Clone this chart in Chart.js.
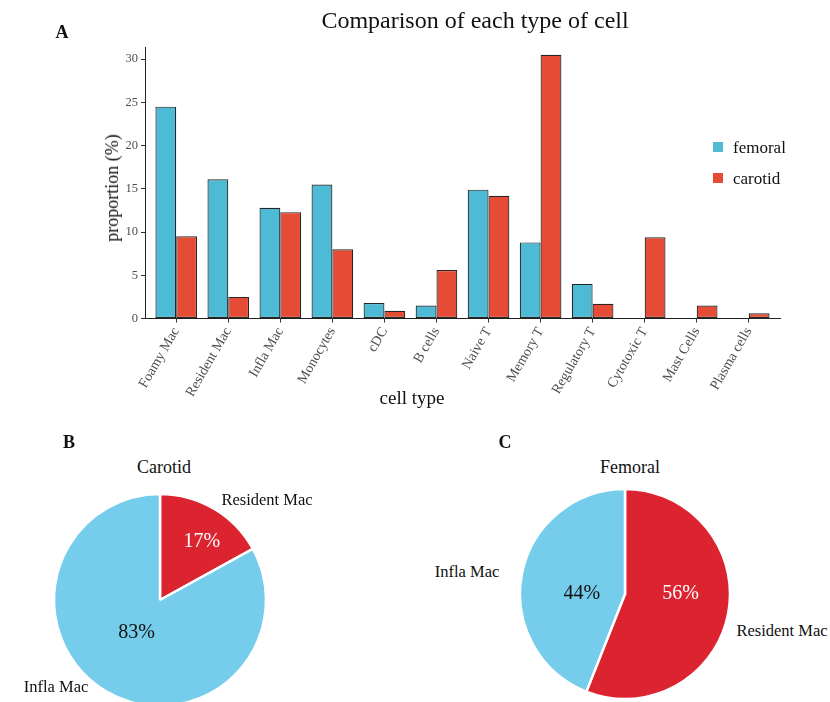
<!DOCTYPE html>
<html lang="en">
  <head>
    <meta charset="UTF-8" />
    <title>Comparison of each type of cell</title>
    <script src="https://cdn.jsdelivr.net/npm/chart.js"></script>
    <style>
      html,
      body {
        margin: 0;
        padding: 0;
        width: 830px;
        height: 702px;
        overflow: hidden;
        background: #fff;
        position: relative;
        font-family: "Liberation Serif", "DejaVu Serif", serif;
        color: #111;
      }
      canvas {
        position: absolute;
        display: block;
      }
      .t {
        position: absolute;
        transform: translate(-50%, -50%);
        white-space: nowrap;
        line-height: 1;
      }
      .panel {
        font-weight: bold;
        font-size: 18px;
      }
      .key {
        position: absolute;
        width: 10px;
        height: 10px;
      }
      .lab {
        position: absolute;
        transform: translateY(-50%);
        font-size: 17px;
        line-height: 1;
      }
    </style>
  </head>
  <body>
    <canvas id="bars" width="830" height="420" style="left: 0; top: 0"></canvas>
    <canvas id="pieCarotid" width="220" height="220" style="left: 50px; top: 490px"></canvas>
    <canvas id="pieFemoral" width="220" height="220" style="left: 515px; top: 484px"></canvas>

    <div class="t panel" style="left: 62px; top: 32px">A</div>
    <div class="t" style="left: 475px; top: 20px; font-size: 24px">Comparison of each type of cell</div>
    <div class="t" style="left: 112px; top: 188px; font-size: 18px; transform: translate(-50%, -50%) rotate(-90deg)">proportion (%)</div>
    <div class="t" style="left: 412px; top: 397px; font-size: 19px">cell type</div>

    <div class="key" style="left: 713px; top: 142px; background: #4dbbd5"></div>
    <div class="lab" style="left: 733px; top: 147px">femoral</div>
    <div class="key" style="left: 713px; top: 173px; background: #e64b35"></div>
    <div class="lab" style="left: 733px; top: 178px">carotid</div>

    <div class="t panel" style="left: 69px; top: 442px">B</div>
    <div class="t" style="left: 164px; top: 467px; font-size: 18px">Carotid</div>
    <div class="t" style="left: 267px; top: 500px; font-size: 16.5px">Resident Mac</div>
    <div class="t" style="left: 56px; top: 687px; font-size: 16.5px">Infla Mac</div>

    <div class="t panel" style="left: 505px; top: 442px">C</div>
    <div class="t" style="left: 630px; top: 467px; font-size: 18px">Femoral</div>
    <div class="t" style="left: 467px; top: 572px; font-size: 16.5px">Infla Mac</div>
    <div class="t" style="left: 782px; top: 631px; font-size: 16.5px">Resident Mac</div>

    <script>
      // data
      const cellTypes = [
        "Foamy Mac",
        "Resident Mac",
        "Infla Mac",
        "Monocytes",
        "cDC",
        "B cells",
        "Naive T",
        "Memory T",
        "Regulatory T",
        "Cytotoxic T",
        "Mast Cells",
        "Plasma cells",
      ];
      const femoral = [24.5, 16.1, 12.8, 15.5, 1.8, 1.5, 14.9, 8.8, 4.0, 0, 0, 0];
      const carotid = [9.5, 2.5, 12.3, 8.0, 0.9, 5.6, 14.2, 30.5, 1.7, 9.4, 1.5, 0.6];
      const yTicks = [0, 5, 10, 15, 20, 25, 30];

      const macLabels = ["Resident Mac", "Infla Mac"];
      const carotidMac = [17, 83];
      const femoralMac = [56, 44];

      const SERIF = "'Liberation Serif', 'DejaVu Serif', serif";

      document.addEventListener("DOMContentLoaded", function () {
        const toPoints = (arr) => arr.map((v, i) => ({ x: i + 1, y: v }));

        new Chart(document.getElementById("bars"), {
          type: "bar",
          data: {
            datasets: [
              {
                label: "femoral",
                data: toPoints(femoral),
                backgroundColor: "#4dbbd5",
              },
              {
                label: "carotid",
                data: toPoints(carotid),
                backgroundColor: "#e64b35",
              },
            ],
          },
          options: {
            responsive: false,
            animation: false,
            layout: { padding: { left: 0, right: 50, top: 47, bottom: 0 } },
            datasets: {
              bar: {
                borderColor: "#262626",
                borderWidth: 1.2,
                borderSkipped: false,
                barPercentage: 1,
                categoryPercentage: 0.8,
              },
            },
            plugins: { legend: { display: false }, tooltip: { enabled: false } },
            scales: {
              x: {
                type: "linear",
                min: 0.4,
                max: 12.6,
                bounds: "data",
                offset: false,
                afterBuildTicks: (s) => {
                  s.ticks = cellTypes.map((c, i) => ({ value: i + 1 }));
                },
                afterFit: (s) => {
                  s.height = 101.5;
                },
                ticks: {
                  autoSkip: false,
                  minRotation: 60,
                  maxRotation: 60,
                  padding: 2,
                  color: "#4d4d4d",
                  font: { family: SERIF, size: 14 },
                  callback: (v) => cellTypes[v - 1],
                },
                grid: {
                  offset: false,
                  drawOnChartArea: false,
                  tickLength: 4,
                  color: "#333",
                },
                border: { color: "#222", width: 1 },
              },
              y: {
                min: 0,
                max: 31.4,
                afterBuildTicks: (s) => {
                  s.ticks = yTicks.map((v) => ({ value: v }));
                },
                afterFit: (s) => {
                  s.width = 145;
                },
                ticks: {
                  padding: 3,
                  color: "#4d4d4d",
                  font: { family: SERIF, size: 12.5 },
                },
                grid: {
                  drawOnChartArea: false,
                  tickLength: 4,
                  color: "#333",
                },
                border: { color: "#222", width: 1 },
              },
            },
          },
        });

        // percentage text inside the slices
        function pctLabels(shiftDeg, radii, colors) {
          return {
            id: "pctLabels",
            afterDatasetsDraw(chart) {
              const ctx = chart.ctx;
              const values = chart.data.datasets[0].data;
              chart.getDatasetMeta(0).data.forEach((arc, i) => {
                const p = arc.getProps(["x", "y", "startAngle", "endAngle", "outerRadius"], true);
                const a = (p.startAngle + p.endAngle) / 2 + (shiftDeg * Math.PI) / 180;
                const r = p.outerRadius * radii[i];
                ctx.save();
                ctx.fillStyle = colors[i];
                ctx.font = "20px " + SERIF;
                ctx.textAlign = "center";
                ctx.textBaseline = "middle";
                ctx.fillText(values[i] + "%", p.x + Math.cos(a) * r, p.y + Math.sin(a) * r);
                ctx.restore();
              });
            },
          };
        }

        function makePie(id, values, radius, plugin) {
          new Chart(document.getElementById(id), {
            type: "pie",
            data: {
              labels: macLabels,
              datasets: [
                {
                  data: values,
                  backgroundColor: ["#dc2430", "#76cceb"],
                  borderColor: "#ffffff",
                  borderWidth: 2.5,
                  radius: radius,
                },
              ],
            },
            options: {
              responsive: false,
              animation: false,
              layout: { padding: 0 },
              plugins: { legend: { display: false }, tooltip: { enabled: false } },
            },
            plugins: [plugin],
          });
        }

        makePie("pieCarotid", carotidMac, 106, pctLabels(5.2, [0.675, 0.377], ["#ffffff", "#111111"]));
        makePie("pieFemoral", femoralMac, 105, pctLabels(-10.8, [0.53, 0.41], ["#ffffff", "#111111"]));
      });
    </script>
  </body>
</html>
